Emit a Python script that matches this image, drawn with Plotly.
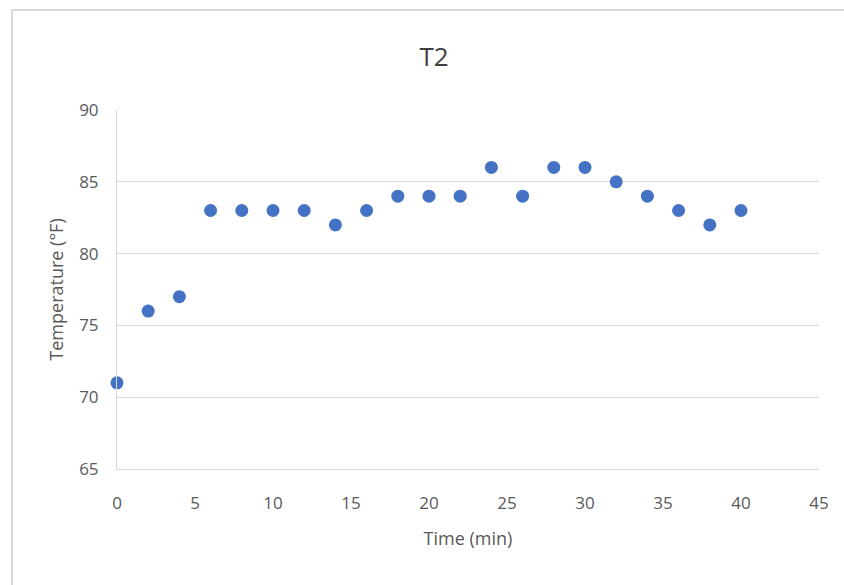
import plotly.graph_objects as go

time_min = [0, 2, 4, 6, 8, 10, 12, 14, 16, 18, 20, 22, 24, 26, 28, 30, 32, 34, 36, 38, 40]
temp_f = [71, 76, 77, 83, 83, 83, 83, 82, 83, 84, 84, 84, 86, 84, 86, 86, 85, 84, 83, 82, 83]

W, H = 844, 585
L, R, T, B = 117, 25, 110, 116
pw, ph = W - L - R, H - T - B

fig = go.Figure(go.Scatter(
    x=time_min, y=temp_f, mode="markers",
    marker=dict(color="#4472C4", size=13, line=dict(width=0)),
    cliponaxis=False,
))

font_fam = "Open Sans, Calibri, sans-serif"
fig.update_layout(
    width=W, height=H,
    margin=dict(l=L, r=R, t=T, b=B),
    paper_bgcolor="white", plot_bgcolor="white",
    showlegend=False,
    title=dict(text="T2", x=(434 - L) / pw, xref="paper", xanchor="center",
               y=1 - 57 / H, yanchor="middle",
               font=dict(family=font_fam, size=26, color="#404040")),
    xaxis=dict(range=[0, 45], dtick=5, showgrid=False, zeroline=False,
               showline=True, linecolor="#d9d9d9", linewidth=1,
               ticks="", ticklabelstandoff=19,
               tickfont=dict(family=font_fam, size=17, color="#595959"),
               title=dict(text="Time (min)", standoff=18,
                          font=dict(family=font_fam, size=18, color="#595959"))),
    yaxis=dict(range=[65, 90], dtick=5, showgrid=True, gridcolor="#d9d9d9",
               gridwidth=1, zeroline=False, showline=True, linecolor="#d9d9d9",
               linewidth=1, ticks="", ticklabelstandoff=14,
               tickfont=dict(family=font_fam, size=17, color="#595959"),
               title=dict(text="Temperature (°F)", standoff=10,
                          font=dict(family=font_fam, size=18, color="#595959"))),
)

# outer chart border (top and left visible)
x_left = (12 - L) / pw
y_top = (H - B - 10) / ph
fig.add_shape(type="line", xref="paper", yref="paper",
              x0=x_left, x1=1.2, y0=y_top, y1=y_top,
              line=dict(color="#d9d9d9", width=2))
fig.add_shape(type="line", xref="paper", yref="paper",
              x0=x_left, x1=x_left, y0=y_top, y1=-0.5,
              line=dict(color="#d9d9d9", width=2))

fig.write_html("out.html")
